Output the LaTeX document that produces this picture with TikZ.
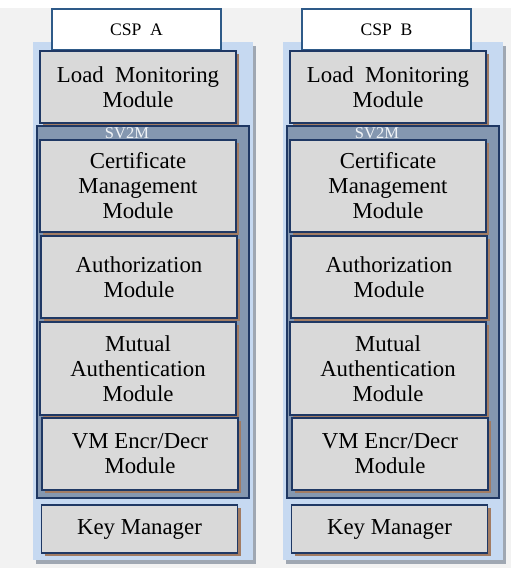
\documentclass[tikz,border=0pt]{standalone}
\usepackage{fontspec}
\setmainfont{Liberation Serif}
\usetikzlibrary{shadows}

\definecolor{navy}{HTML}{1F3864}
\definecolor{cspblue}{HTML}{2E5A88}
\definecolor{modgray}{HTML}{D9D9D9}
\definecolor{panelblue}{HTML}{C6D9F1}
\definecolor{svblue}{HTML}{8497B0}
\definecolor{shadowbrown}{HTML}{A27C63}
\definecolor{panelshade}{HTML}{9FA7B2}
\definecolor{backgray}{HTML}{F2F2F2}

\tikzset{
  module/.style={draw=navy, line width=1.6pt, fill=modgray, minimum width=196pt,
    inner sep=0pt, align=center, font=\fontsize{22.8}{25}\selectfont,
    drop shadow={shadow xshift=3pt, shadow yshift=-3pt, fill=shadowbrown, opacity=1}},
  cspbox/.style={draw=cspblue, line width=1.6pt, fill=white, minimum width=169pt,
    minimum height=41pt, inner sep=0pt, font=\fontsize{17.6}{20}\selectfont},
  outer/.style={fill=panelblue, minimum width=220pt, minimum height=518pt, inner sep=0pt,
    drop shadow={shadow xshift=3pt, shadow yshift=-4pt, fill=panelshade, opacity=1}},
  svpanel/.style={draw=navy, line width=1.2pt, fill=svblue, minimum width=212pt,
    minimum height=372pt, inner sep=0pt},
}

\begin{document}
\begin{tikzpicture}[x=1pt,y=-1pt]
    \useasboundingbox (0,0) rectangle (511,568);
    % Background
    \fill [backgray] (0,8) rectangle (511,568);
    \foreach \c/\dx in {A/0,B/250} {
      % Panels
      \node [outer] (panel\c) at (143+\dx,301) {};
      \node [cspbox] (csp\c) at (136.5+\dx,29.5) {CSP\ \ \c};
      \node [module, minimum height=72pt] (load\c) at (138+\dx,87)
        {Load\ \ Monitoring\\Module};
      \node [svpanel] (sv\c) at (143+\dx,312) {};
      \node [text=white!88!svblue, font=\fontsize{16.5}{18}\selectfont] (svlabel\c)
        at (127+\dx,133) {SV2M};
      % Modules of SV2M
      \node [module, minimum height=92pt] (cert\c) at (138+\dx,186)
        {Certificate\\Management\\Module};
      \node [module, minimum height=82pt] (auth\c) at (139+\dx,277)
        {Authorization\\Module};
      \node [module, minimum height=93pt] (mutual\c) at (138+\dx,368.5)
        {Mutual\\Authentication\\Module};
      \node [module, minimum height=72pt] (vm\c) at (140+\dx,454)
        {VM Encr/Decr\\Module};
      \node [module, minimum height=48pt] (key\c) at (139.5+\dx,529)
        {Key Manager};
    }
\end{tikzpicture}
\end{document}
